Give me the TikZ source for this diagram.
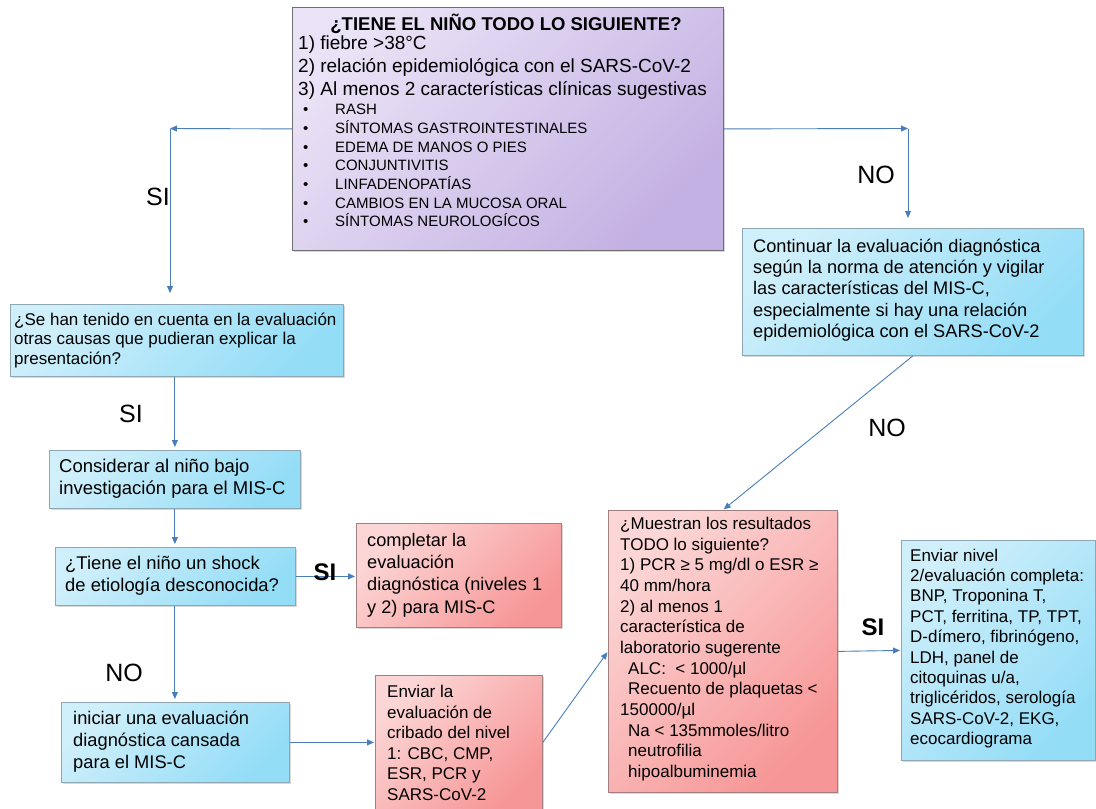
\documentclass[tikz,border=0pt]{standalone}
\usepackage{fontspec}
\setmainfont{Liberation Sans}
\usetikzlibrary{shadows,arrows.meta}
\definecolor{arr}{HTML}{4A7EBB}
\definecolor{purplelight}{HTML}{EAE2F6}
\definecolor{purpledark}{HTML}{C4B1E3}
\definecolor{purpleborder}{HTML}{6F6F6F}
\definecolor{bluelight}{HTML}{CFEFFA}
\definecolor{bluedark}{HTML}{94DDF7}
\definecolor{blueborder}{HTML}{8FA7B3}
\definecolor{redlight}{HTML}{FCD6D6}
\definecolor{reddark}{HTML}{F79696}
\definecolor{redborder}{HTML}{A08080}
\begin{document}
\begin{tikzpicture}[x=1pt,y=-1pt,
  box/.style={rectangle, draw=#1border, line width=0.8pt, top color=#1light, bottom color=#1dark, shading angle=45,
    drop shadow={shadow xshift=2pt, shadow yshift=-2pt, opacity=0.3}, inner sep=0pt, anchor=north west},
  txt/.style={align=left, inner sep=0pt, anchor=west, text=black},
  lbl/.style={inner sep=0pt, font=\fontsize{25}{28}\selectfont},
  lblb/.style={inner sep=0pt, font=\bfseries\fontsize{24}{28}\selectfont},
  conn/.style={draw=arr, line width=0.9pt},
  arrowed/.style={conn, -{Triangle[length=7pt,width=6pt]}}]
\useasboundingbox (0,0) rectangle (1096,809);
\fill[white] (0,0) rectangle (1096,809);

% boxes
\node[box=purple, minimum width=431pt, minimum height=243pt] (top) at (292,7) {};
\node[box=blue, minimum width=333pt, minimum height=72pt] (b1) at (10,304) {};
\node[box=blue, minimum width=251pt, minimum height=58pt] (cons) at (49,450) {};
\node[box=blue, minimum width=240pt, minimum height=58pt] (shock) at (55,547) {};
\node[box=red, minimum width=205pt, minimum height=104pt] (comp) at (356,523) {};
\node[box=blue, minimum width=228pt, minimum height=80pt] (inic) at (61,702) {};
\node[box=red, minimum width=167pt, minimum height=134pt] (envla) at (375,675) {};
\node[box=blue, minimum width=341pt, minimum height=127pt] (cont) at (742,228) {};
\node[box=red, minimum width=229pt, minimum height=282pt] (mues) at (608,510) {};
\node[box=blue, minimum width=194pt, minimum height=220pt] (niv) at (901,540) {};

% top box texts
\node[inner sep=0pt, font=\bfseries\fontsize{18.5}{21}\selectfont] (topT) at (506,24) {¿TIENE EL NIÑO TODO LO SIGUIENTE?};
\node[txt, font=\fontsize{19}{23}\selectfont] (topL) at (298,68) {1) fiebre >38°C\\2) relación epidemiológica con el SARS-CoV-2\\3) Al menos 2 características clínicas sugestivas};
\node[txt, font=\fontsize{15}{18.7}\selectfont] (topB) at (303,167) {%
\begin{tabular}{@{}p{32pt}@{}l@{}}
•& RASH\\
•& SÍNTOMAS GASTROINTESTINALES\\
•& EDEMA DE MANOS O PIES\\
•& CONJUNTIVITIS\\
•& LINFADENOPATÍAS\\
•& CAMBIOS EN LA MUCOSA ORAL\\
•& SÍNTOMAS NEUROLOGÍCOS
\end{tabular}};

% other box texts
\node[txt, font=\fontsize{17}{19.5}\selectfont] (b1T) at (14,340) {¿Se han tenido en cuenta en la evaluación\\otras causas que pudieran explicar la\\presentación?};
\node[txt, font=\fontsize{18.5}{21.7}\selectfont] (consT) at (59,479) {Considerar al niño bajo\\investigación para el MIS-C};
\node[txt, font=\fontsize{18.4}{21.7}\selectfont] (shockT) at (65,576) {¿Tiene el niño un shock\\de etiología desconocida?};
\node[txt, font=\fontsize{18.2}{22.3}\selectfont] (compT) at (367,575) {completar la\\evaluación\\diagnóstica (niveles 1\\y 2) para MIS-C};
\node[txt, font=\fontsize{18.3}{22}\selectfont] (inicT) at (73,742) {iniciar una evaluación\\diagnóstica cansada\\para el MIS-C};
\node[txt, font=\fontsize{17}{20.6}\selectfont] (envlaT) at (387,743) {Enviar la\\evaluación de\\cribado del nivel\\1: CBC, CMP,\\ESR, PCR y\\SARS-CoV-2};
\node[txt, font=\fontsize{18.2}{21.2}\selectfont] (contT) at (753,290) {Continuar la evaluación diagnóstica\\según la norma de atención y vigilar\\las características del MIS-C,\\especialmente si hay una relación\\epidemiológica con el SARS-CoV-2};
\node[txt, font=\fontsize{17}{20.65}\selectfont] (muesT) at (620,649) {¿Muestran los resultados\\TODO lo siguiente?\\1) PCR ≥ 5 mg/dl o ESR ≥\\40 mm/hora\\2) al menos 1\\característica de\\laboratorio sugerente\\\hspace*{8pt}ALC:\ \ < 1000/µl\\\hspace*{8pt}Recuento de plaquetas <\\150000/µl\\\hspace*{8pt}Na < 135mmoles/litro\\\hspace*{8pt}neutrofilia\\\hspace*{8pt}hipoalbuminemia};
\node[txt, font=\fontsize{17}{20.4}\selectfont] (nivT) at (910,648.5) {Enviar nivel\\2/evaluación completa:\\BNP, Troponina T,\\PCT, ferritina, TP, TPT,\\D-dímero, fibrinógeno,\\LDH, panel de\\citoquinas u/a,\\triglicéridos, serología\\SARS-CoV-2, EKG,\\ecocardiograma};

% connectors
\coordinate (cL) at (170,128.5);
\coordinate (cR) at (908,128.5);
\draw[arrowed] (top.west) -- (cL);
\draw[arrowed, shorten >=11pt] (cL) -- (b1.north -| cL);
\draw[arrowed] (top.east) -- (cR);
\draw[arrowed, shorten >=10pt] (cR) -- (cont.north -| cR);
\draw[arrowed, shorten >=3pt] (cons.north |- b1.south) -- (cons.north);
\draw[arrowed, shorten >=3pt] (cons.south) -- (cons.south |- shock.north);
\draw[arrowed, shorten >=3pt] (cons.south |- shock.south) -- (cons.south |- inic.north);
\draw[arrowed, shorten >=1pt] (shock.east) -- (comp.west |- shock.east);
\draw[arrowed, shorten >=1pt] (inic.east) -- (envla.west |- inic.east);
\draw[arrowed, shorten >=1pt] (envla.east) -- (mues.west);
\draw[arrowed, shorten >=1pt] (cont.south) -- (mues.north);
\draw[arrowed, shorten >=1pt] (mues.east) -- (niv.west);

% labels
\node[lbl] (si1) at (158,197) {SI};
\node[lbl] (no1) at (876,175) {NO};
\node[lbl] (si2) at (131,414) {SI};
\node[lblb] (si3) at (325,572) {SI};
\node[lbl] (no2) at (124,673) {NO};
\node[lbl] (no3) at (887,428) {NO};
\node[lblb] (si4) at (873,627) {SI};
\end{tikzpicture}
\end{document}
